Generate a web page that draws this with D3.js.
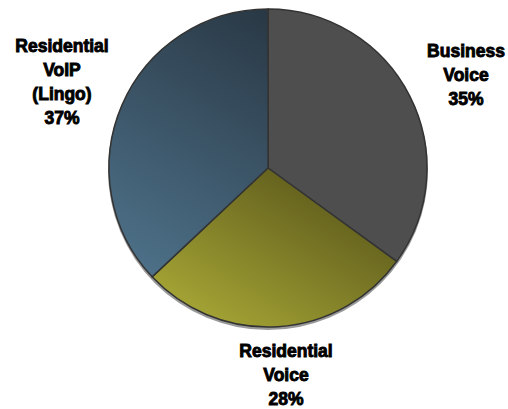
<!DOCTYPE html>
<html><head><meta charset="utf-8">
<script src="https://cdn.jsdelivr.net/npm/d3@7"></script>
<style>body{margin:0;background:#fff}svg{display:block}</style>
</head><body>
<svg id="c" width="508" height="409"></svg>
<script>
const categories = ["Business Voice", "Residential Voice", "Residential VoIP (Lingo)"];
const values = [35, 28, 37];
const labelLines = [["Business", "Voice", "35%"], ["Residential", "Voice", "28%"], ["Residential", "VoIP", "(Lingo)", "37%"]];
const topColors = ["#4e4e4e", "#5f5c1c", "#283642"];
const bottomColors = ["#8a8a8a", "#a5a535", "#4d7189"];

const svg = d3.select("#c");
const cx = 268, cy = 168, r = 159;
// gradient direction (fractions of radius) per slice: [x1,y1,x2,y2]
const gradDir = [[0, -0.9, 0.6, 0.6], [0.3, 0, -0.3, 1], [0.1, -1, -0.9, 0.6]];
const defs = svg.append("defs");
categories.forEach((c, i) => {
  const d = gradDir[i];
  const g = defs.append("linearGradient").attr("id", "g" + i)
    .attr("gradientUnits", "userSpaceOnUse")
    .attr("x1", cx + d[0] * r).attr("y1", cy + d[1] * r).attr("x2", cx + d[2] * r).attr("y2", cy + d[3] * r);
  g.append("stop").attr("offset", 0).attr("stop-color", topColors[i]);
  g.append("stop").attr("offset", 1).attr("stop-color", bottomColors[i]);
});
const pie = d3.pie().sort(null).value(d => d)(values);
const arc = d3.arc().innerRadius(0).outerRadius(r);
const g = svg.append("g").attr("transform", `translate(${cx},${cy})`);
g.append("circle").attr("cx", 0).attr("cy", 2).attr("r", r + 1).attr("fill", "#555").attr("opacity", 0.6);
g.selectAll("path").data(pie).join("path")
  .attr("d", arc).attr("fill", (d, i) => `url(#g${i})`)
  .attr("stroke", "#333").attr("stroke-width", 1.5).attr("stroke-linejoin", "round");

const labelPos = [[466, 57], [286, 357], [62, 52]];
const lh = 24;
labelLines.forEach((lines, i) => {
  const t = svg.append("text").attr("text-anchor", "middle")
    .attr("font-family", "Liberation Sans, Arial, sans-serif").attr("font-weight", "bold")
    .attr("font-size", 17.5).attr("fill", "#000").attr("stroke", "#000").attr("stroke-width", 0.9);
  lines.forEach((s, j) => t.append("tspan").attr("x", labelPos[i][0]).attr("y", labelPos[i][1] + j * lh).text(s));
});
</script>
</body></html>
